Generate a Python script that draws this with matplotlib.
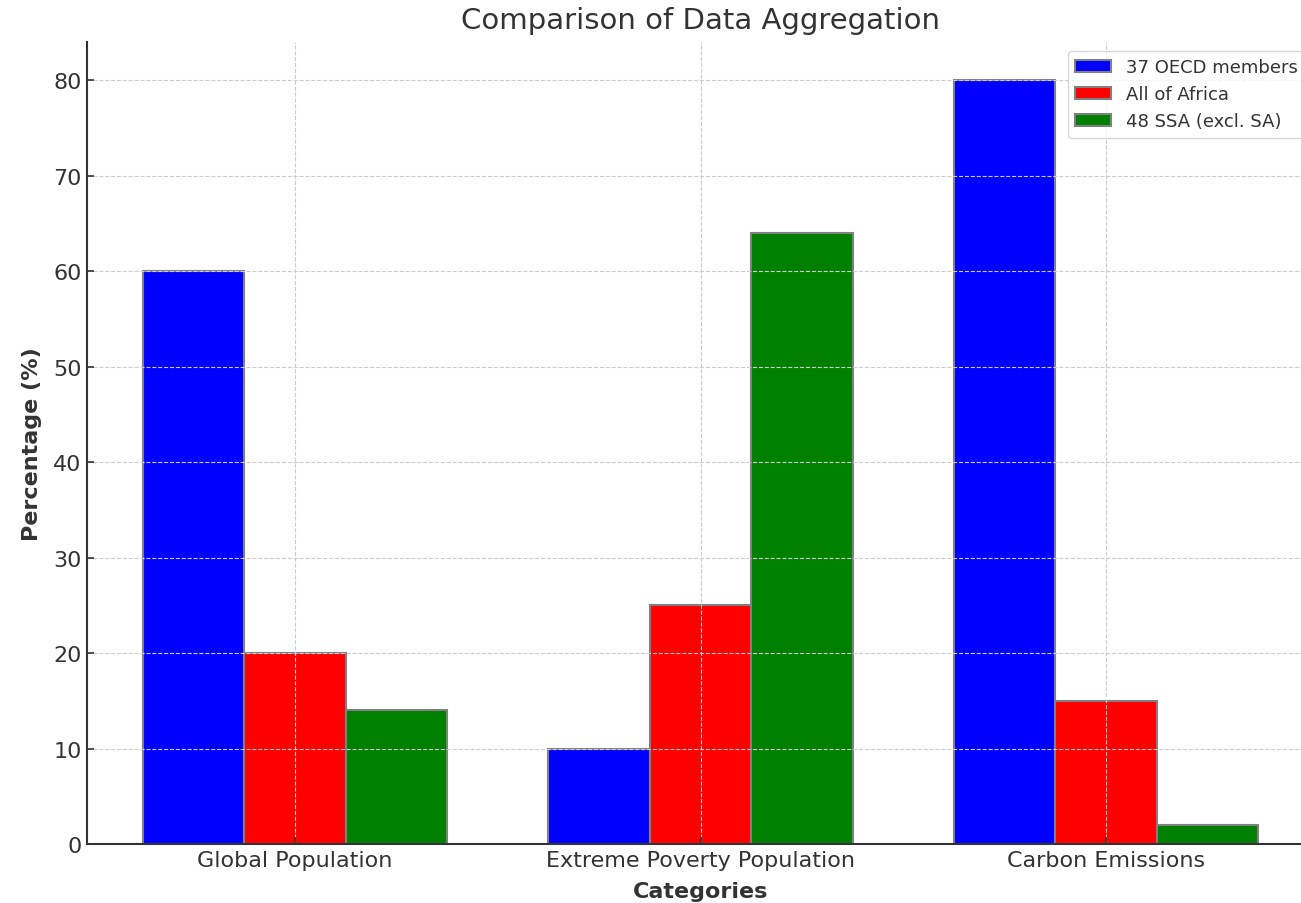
import matplotlib
matplotlib.use("Agg")
import matplotlib.pyplot as plt
import numpy as np

categories = ["Global Population", "Extreme Poverty Population", "Carbon Emissions"]
oecd = [60, 10, 80]
africa = [20, 25, 15]
ssa = [14, 64, 2]
series_labels = ["37 OECD members", "All of Africa", "48 SSA (excl. SA)"]
series_colors = ["blue", "red", "green"]

text_color = "#333333"
plt.rcParams["text.color"] = text_color
plt.rcParams["axes.labelcolor"] = text_color
plt.rcParams["xtick.color"] = text_color
plt.rcParams["ytick.color"] = text_color

fig = plt.figure(figsize=(13.01, 9.04), dpi=100)
ax = fig.add_axes([87 / 1301, 59 / 904, (1314 - 87) / 1301, (845 - 43) / 904])

x = np.arange(len(categories))
width = 0.25
for i, (vals, lab, col) in enumerate(zip([oecd, africa, ssa], series_labels, series_colors)):
    ax.bar(x + (i - 1) * width, vals, width, label=lab, color=col,
           edgecolor="grey", linewidth=1.5)

ax.set_xticks(x)
ax.set_xticklabels(categories, fontsize=16)
ax.tick_params(axis="y", labelsize=16)
ax.tick_params(direction="in", length=5, width=1.2, pad=4)
ax.set_xlabel("Categories", fontsize=16, fontweight="bold", labelpad=8)
ax.set_ylabel("Percentage (%)", fontsize=16, fontweight="bold", labelpad=8)
ax.set_title("Comparison of Data Aggregation", fontsize=21, pad=10)
ax.grid(True, linestyle="--", color="#cccccc", linewidth=0.8)

for side in ["top", "right"]:
    ax.spines[side].set_visible(False)
for side in ["left", "bottom"]:
    ax.spines[side].set_color(text_color)
    ax.spines[side].set_linewidth(1.5)

ax.legend(loc="upper right", fontsize=13)

fig.savefig("out.png", dpi=100)
